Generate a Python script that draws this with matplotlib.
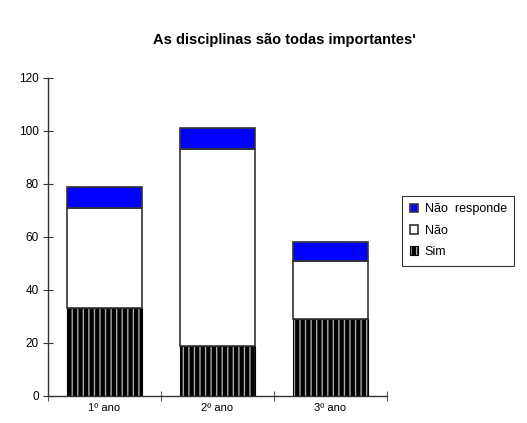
import matplotlib.pyplot as plt
import numpy as np

plt.rcParams['font.family'] = ['Liberation Sans', 'DejaVu Sans']
plt.rcParams['hatch.linewidth'] = 3.0

categories = ['1º ano', '2º ano', '3º ano']
sim = [33, 19, 29]
nao = [38, 74, 22]
nao_responde = [8, 8, 7]

fig = plt.figure(figsize=(5.27, 4.23), dpi=100)
ax = fig.add_axes([0.091, 0.064, 0.643, 0.752])

x = np.arange(len(categories))
w = 0.67
b1 = ax.bar(x, sim, w, color='#a8a8a8', edgecolor='black', hatch='|||',
            linewidth=0.8, label='Sim')
b2 = ax.bar(x, nao, w, bottom=sim, color='white', edgecolor='#333333',
            linewidth=1.2, label='Não')
bottom3 = np.array(sim) + np.array(nao)
b3 = ax.bar(x, nao_responde, w, bottom=bottom3, color='#0000ff',
            edgecolor='#333333', linewidth=1.2, label='Não responde')

ax.set_xlim(-0.5, 2.5)
ax.set_ylim(0, 120)
ax.set_yticks(range(0, 121, 20))
ax.set_xticks(x)
ax.set_xticklabels(categories, fontsize=8)
ax.tick_params(axis='x', length=0, pad=5)
ax.set_xticks([-0.5, 0.5, 1.5, 2.5], minor=True)
ax.tick_params(axis='x', which='minor', direction='inout', length=7, color='#333333')
ax.tick_params(axis='y', direction='inout', length=7, labelsize=8.5, color='#333333', pad=3)
for s in ['top', 'right']:
    ax.spines[s].set_visible(False)
for s in ['left', 'bottom']:
    ax.spines[s].set_color('#333333')
    ax.spines[s].set_linewidth(1.0)

fig.text(0.54, 0.905, "As disciplinas são todas importantes'", ha='center',
         va='center', fontsize=10.5, fontweight='bold')

leg = fig.legend(handles=[b3, b2, b1], labels=['Não  responde', 'Não', 'Sim'],
                 loc='upper left', bbox_to_anchor=(0.763, 0.537), fontsize=9,
                 frameon=True, fancybox=False, edgecolor='black',
                 handlelength=0.7, handleheight=0.7, handletextpad=0.5,
                 labelspacing=0.75, borderpad=0.6, borderaxespad=0)
leg.get_frame().set_linewidth(0.8)

fig.savefig('out.png', dpi=100)
